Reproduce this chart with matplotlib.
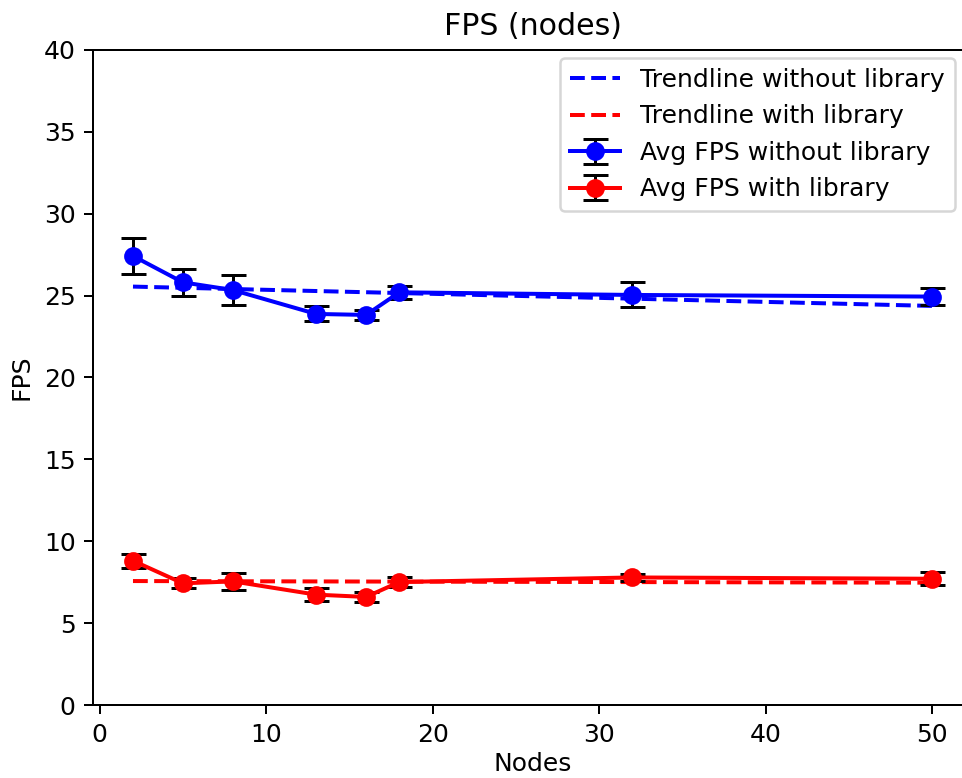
import matplotlib
matplotlib.use("Agg")
import matplotlib.pyplot as plt

# data
nodes = [2, 5, 8, 13, 16, 18, 32, 50]
fps_without = [27.42, 25.81, 25.34, 23.88, 23.82, 25.2, 25.04, 24.94]
err_without = [1.1, 0.82, 0.94, 0.46, 0.32, 0.4, 0.76, 0.5]
fps_with = [8.81, 7.43, 7.55, 6.74, 6.6, 7.51, 7.79, 7.71]
err_with = [0.43, 0.3, 0.5, 0.38, 0.33, 0.3, 0.22, 0.4]

trend_x = [2, 50]
trend_without = [25.55, 24.37]
trend_with = [7.57, 7.47]

fig = plt.figure(figsize=(963 / 180, 778 / 180), dpi=180)
ax = fig.add_axes([0.0966, 0.0938, 0.9128, 0.842])

ax.plot(trend_x, trend_without, '--', color='blue', lw=1.6, label='Trendline without library')
ax.plot(trend_x, trend_with, '--', color='red', lw=1.6, label='Trendline with library')

ax.errorbar(nodes, fps_without, yerr=err_without, fmt='-o', color='blue', ecolor='black',
            elinewidth=1.2, capsize=5, capthick=1.2, lw=1.6, ms=6.5,
            label='Avg FPS without library')
ax.errorbar(nodes, fps_with, yerr=err_with, fmt='-o', color='red', ecolor='black',
            elinewidth=1.2, capsize=5, capthick=1.2, lw=1.6, ms=6.5,
            label='Avg FPS with library')

ax.set_ylim(0, 40)
ax.set_xlim(-0.4, 52.4)
ax.set_title('FPS (nodes)', fontsize=12)
ax.set_xlabel('Nodes', labelpad=2)
ax.set_ylabel('FPS')
ax.legend(loc='upper right', bbox_to_anchor=(0.9807, 0.9878), borderaxespad=0)

fig.savefig('out.png', dpi=180)
